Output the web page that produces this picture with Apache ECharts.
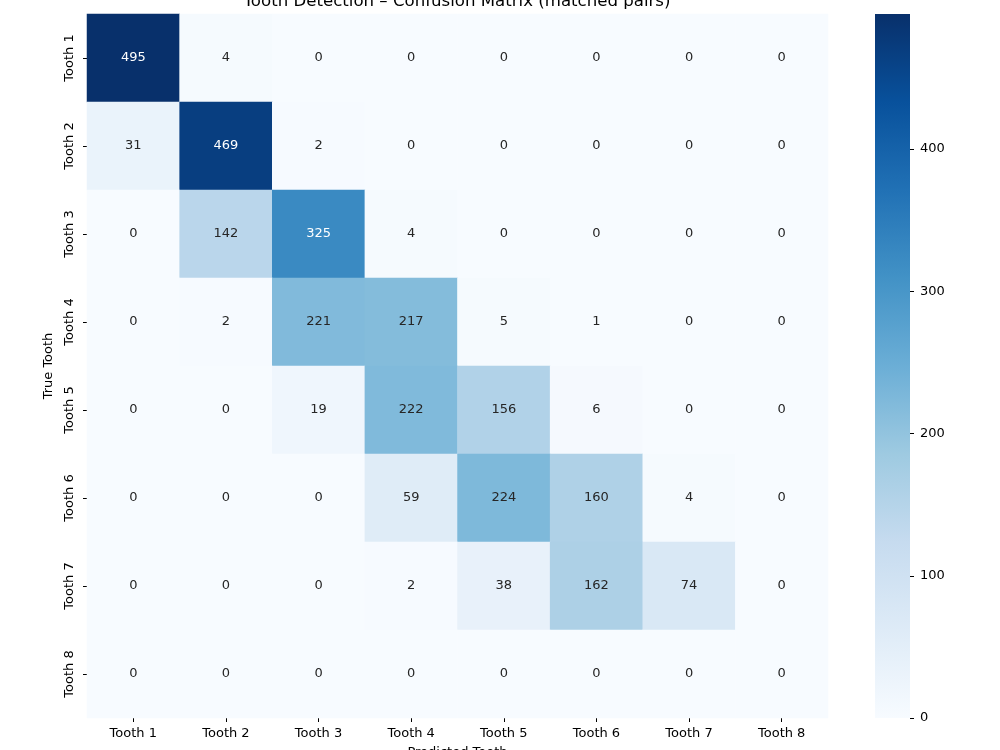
<!DOCTYPE html>
<html>
<head>
<meta charset="utf-8">
<script src="https://cdn.jsdelivr.net/npm/echarts@6/dist/echarts.min.js"></script>
<style>
  html, body { margin: 0; padding: 0; background: #fff; }
  #chart { width: 1000px; height: 750px; }
</style>
</head>
<body>
<div id="chart"></div>
<script>
// rows = true tooth, columns = predicted tooth
const predictedLabels = ["Tooth 1", "Tooth 2", "Tooth 3", "Tooth 4", "Tooth 5", "Tooth 6", "Tooth 7", "Tooth 8"];
const trueLabels = ["Tooth 1", "Tooth 2", "Tooth 3", "Tooth 4", "Tooth 5", "Tooth 6", "Tooth 7", "Tooth 8"];
const counts = [
  [495, 4, 0, 0, 0, 0, 0, 0],
  [31, 469, 2, 0, 0, 0, 0, 0],
  [0, 142, 325, 4, 0, 0, 0, 0],
  [0, 2, 221, 217, 5, 1, 0, 0],
  [0, 0, 19, 222, 156, 6, 0, 0],
  [0, 0, 0, 59, 224, 160, 4, 0],
  [0, 0, 0, 2, 38, 162, 74, 0],
  [0, 0, 0, 0, 0, 0, 0, 0],
];
const colorbarTicks = [0, 100, 200, 300, 400];

const blues = ["#f7fbff", "#deebf7", "#c6dbef", "#9ecae1", "#6baed6", "#4292c6", "#2171b5", "#08519c", "#08306b"];
const vmax = Math.max(...counts.flat());
const font = "DejaVu Sans";

const cells = [];
counts.forEach((row, i) => {
  row.forEach((v, j) => {
    cells.push({
      value: [j, i, v],
      label: { color: v > 0.6 * vmax ? "#ffffff" : "#262626" },
    });
  });
});

// colorbar fill: Blues running bottom (0) to top (vmax)
const barGradient = new echarts.graphic.LinearGradient(
  0, 1, 0, 0,
  blues.map((c, k) => ({ offset: k / (blues.length - 1), color: c }))
);

const chart = echarts.init(document.getElementById("chart"), undefined, { renderer: "canvas" });
chart.setOption({
  animation: false,
  backgroundColor: "#ffffff",
  title: {
    text: "Tooth Detection \u2013 Confusion Matrix (matched pairs)",
    left: 457,
    textAlign: "center",
    top: -7,
    padding: 0,
    textStyle: { fontFamily: font, fontSize: 16.6, fontWeight: "normal", color: "#000" },
  },
  grid: [
    { left: 87, top: 14, width: 741, height: 704, outerBoundsMode: "none" },
    { left: 875, top: 14, width: 35, height: 704, outerBoundsMode: "none" },
  ],
  xAxis: [
    {
      type: "category",
      gridIndex: 0,
      data: predictedLabels,
      name: "Predicted Tooth",
      nameLocation: "middle",
      nameGap: 28,
      nameTextStyle: { fontFamily: font, fontSize: 13, color: "#000" },
      axisLine: { show: false },
      axisTick: { show: true, alignWithLabel: true, length: 4, lineStyle: { color: "#000" } },
      axisLabel: { fontFamily: font, fontSize: 13, color: "#000", margin: 9 },
      splitLine: { show: false },
    },
    {
      type: "category",
      gridIndex: 1,
      data: [""],
      show: false,
    },
  ],
  yAxis: [
    {
      type: "category",
      gridIndex: 0,
      inverse: true,
      data: trueLabels,
      name: "True Tooth",
      nameLocation: "middle",
      nameGap: 30,
      nameTextStyle: { fontFamily: font, fontSize: 13, color: "#000" },
      axisLine: { show: false },
      axisTick: { show: true, alignWithLabel: true, length: 4, lineStyle: { color: "#000" } },
      axisLabel: { fontFamily: font, fontSize: 13, color: "#000", rotate: 90, margin: 11 },
      splitLine: { show: false },
    },
    {
      type: "value",
      gridIndex: 1,
      position: "right",
      min: 0,
      max: vmax,
      interval: 100,
      axisLine: { show: false },
      axisTick: { show: true, length: 4, lineStyle: { color: "#000" } },
      axisLabel: {
        fontFamily: font,
        fontSize: 13,
        color: "#000",
        margin: 10,
        showMaxLabel: false,
        formatter: (v) => (colorbarTicks.includes(v) ? String(v) : ""),
      },
      splitLine: { show: false },
    },
  ],
  visualMap: {
    type: "continuous",
    seriesIndex: 0,
    min: 0,
    max: vmax,
    show: false,
    inRange: { color: blues },
  },
  series: [
    {
      type: "heatmap",
      xAxisIndex: 0,
      yAxisIndex: 0,
      data: cells,
      label: { show: true, fontFamily: font, fontSize: 13 },
      itemStyle: { borderWidth: 0 },
      emphasis: { disabled: true },
    },
    {
      type: "bar",
      xAxisIndex: 1,
      yAxisIndex: 1,
      data: [vmax],
      barWidth: "100%",
      itemStyle: { color: barGradient },
      silent: true,
    },
  ],
});
</script>
</body>
</html>
